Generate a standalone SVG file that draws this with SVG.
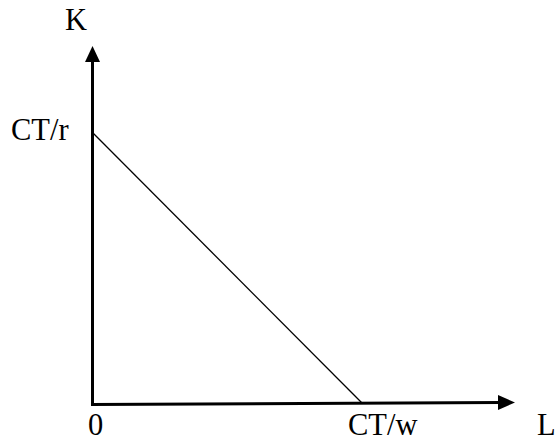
<svg xmlns="http://www.w3.org/2000/svg" width="557" height="441" viewBox="0 0 557 441">
<style>
.t{font-family:"Liberation Serif","Times New Roman",serif;font-size:30.5px;fill:#000}
.ax{stroke:#000;stroke-width:3;fill:none}
</style>
<rect width="557" height="441" fill="#fff"/>
<g id="connectors">
<line class="ax" x1="92.5" y1="405" x2="92.5" y2="60"/>
<polygon points="92.5,46 85,62 100,62" fill="#000"/>
<line class="ax" x1="91" y1="404.5" x2="500" y2="402.5"/>
<polygon points="515,402.5 498,395 498,410" fill="#000"/>
<line x1="93" y1="133" x2="362" y2="403" stroke="#000" stroke-width="1.3"/>
</g>
<g id="label-K"><text class="t" x="65" y="30">K</text></g>
<g id="label-CTr"><text class="t" x="11" y="140">CT/r</text></g>
<g id="label-0"><text class="t" x="88" y="435">0</text></g>
<g id="label-CTw"><text class="t" x="348" y="435">CT/w</text></g>
<g id="label-L"><text class="t" x="537" y="435">L</text></g>
</svg>
